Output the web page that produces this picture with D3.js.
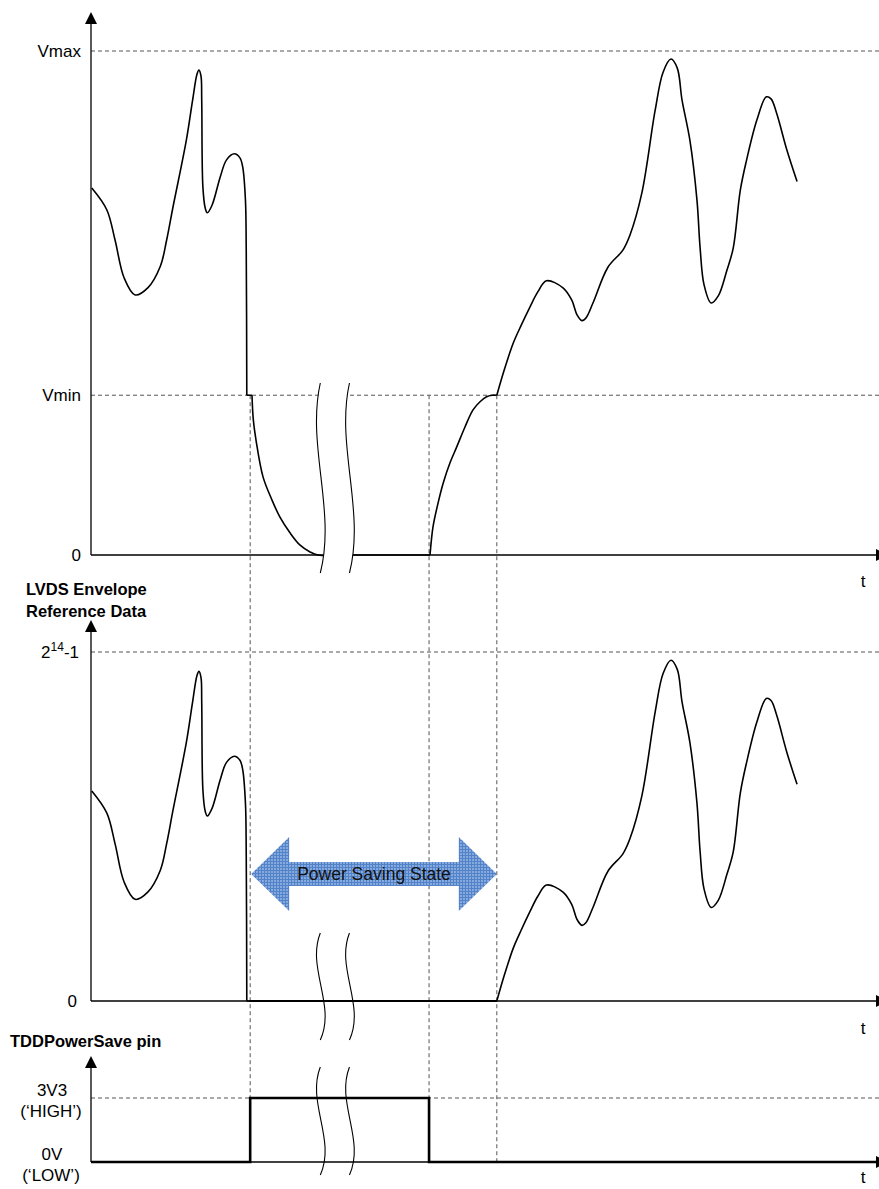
<!DOCTYPE html>
<html><head><meta charset="utf-8">
<script src="https://cdn.jsdelivr.net/npm/d3@7"></script>
<style>
body{margin:0;background:#fff}
svg{display:block}
text{font-family:"Liberation Sans",Arial,Helvetica,sans-serif;fill:#000}
</style>
</head><body>
<svg id="c" width="879" height="1189"></svg>
<script>
// ---------------- data ----------------
// analogue envelope (normalised, Vmax = 1) against time (arbitrary units 0..100)
const envTime = [0.1,2.0,3.05,4.2,5.6,7.2,8.8,9.6,10.4,12.1,12.9,13.45,13.7,13.96,14.05,14.2,14.5,14.76,15.36,16.4,17.2,18.2,18.9,19.25,19.6,19.7,19.77,20.43,20.6,20.94,21.83,22.97,23.98,25.25,26.5,27.8,28.8,33.1,43.02,43.2,43.4,44.04,44.7,45.56,46.4,47.46,48.48,49.37,50.2,50.9,51.5,52.4,53.6,54.6,55.7,56.7,57.8,59.9,61.0,61.7,62.3,62.8,63.7,65.6,67.5,68.4,69.9,71.6,72.6,73.6,74.4,75.0,76.0,76.9,77.3,77.8,78.7,79.6,80.7,81.5,82.4,83.2,84.5,85.7,86.3,87.0,88.3,89.6];
const envLevel = [0.728,0.685,0.625,0.550,0.516,0.530,0.573,0.625,0.690,0.823,0.903,0.954,0.962,0.950,0.903,0.730,0.688,0.679,0.694,0.750,0.784,0.796,0.788,0.770,0.704,0.605,0.317,0.317,0.268,0.228,0.155,0.109,0.075,0.044,0.020,0.006,0,0,0,0.030,0.056,0.103,0.143,0.183,0.214,0.254,0.288,0.304,0.314,0.317,0.317,0.365,0.421,0.456,0.492,0.522,0.544,0.530,0.506,0.476,0.465,0.470,0.500,0.571,0.605,0.635,0.718,0.883,0.958,0.984,0.966,0.903,0.823,0.704,0.609,0.536,0.500,0.514,0.565,0.609,0.724,0.784,0.863,0.909,0.905,0.877,0.804,0.741];
const envCornerTimes = [19.77, 20.43, 43.02, 51.5];   // sharp corners of the envelope
const VMIN = 0.317, VMAX = 1;
const envTickValues = [0, VMIN, VMAX];
const envTickLabels = ["0", "Vmin", "Vmax"];
const CODE_MAX = 16383;                 // 2^14-1
const refTickValues = [0, CODE_MAX];
const pinTime = [0, 20.2, 42.9, 100];
const pinLevel = [0, 3.3, 0, 0];
const pinTickValues = [0, 3.3];
const pinTickLabels = [["0V", "(\u2018LOW\u2019)"], ["3V3", "(\u2018HIGH\u2019)"]];
const markerTimes = [20.2, 42.9, 51.5];
const breakTimes = [29.1, 32.8];
const powerSaveSpan = [20.2, 51.5];
const powerSaveLabel = "Power Saving State";
const refTitle = ["LVDS Envelope", "Reference Data"];
const pinTitle = "TDDPowerSave pin";

// ---------------- layout ----------------
const svg = d3.select("#c");
const X0 = 91, X1 = 879;
const x = d3.scaleLinear().domain([0, 100]).range([X0, X1]);
const y1 = d3.scaleLinear().domain([0, VMAX]).range([555, 51]);
const code = d3.scaleLinear().domain([VMIN, VMAX]).range([0, CODE_MAX]).clamp(true);
const y2 = d3.scaleLinear().domain([0, CODE_MAX]).range([1001, 652]);
const y3 = d3.scaleLinear().domain([0, 3.3]).range([1162, 1098]);
const curve = d3.curveCatmullRom.alpha(0.5);

const defs = svg.append("defs");
const pat = defs.append("pattern").attr("id", "grid").attr("patternUnits", "userSpaceOnUse")
  .attr("width", 3).attr("height", 3);
pat.append("rect").attr("width", 3).attr("height", 3).attr("fill", "#86a9de");
pat.append("rect").attr("width", 3).attr("height", 1).attr("fill", "#5282c8");
pat.append("rect").attr("width", 1).attr("height", 3).attr("fill", "#5282c8");

const dashCol = "#555";
function hDash(y) {
  svg.append("line").attr("x1", X0).attr("x2", X1).attr("y1", y).attr("y2", y)
    .attr("stroke", dashCol).attr("stroke-width", 1).attr("stroke-dasharray", "4,3");
}
function yAxis(yBottom, tipY) {
  svg.append("line").attr("x1", X0).attr("x2", X0).attr("y1", yBottom).attr("y2", tipY + 8)
    .attr("stroke", "#000").attr("stroke-width", 1.3);
  svg.append("path").attr("d", `M${X0},${tipY} L${X0 - 6},${tipY + 12} L${X0 + 6},${tipY + 12} Z`).attr("fill", "#000");
}
function xAxis(y, w) {
  svg.append("line").attr("x1", X0).attr("x2", 878).attr("y1", y).attr("y2", y)
    .attr("stroke", "#000").attr("stroke-width", w);
  svg.append("path").attr("d", `M876,${y - 6} L888,${y} L876,${y + 6} Z`).attr("fill", "#000");
}
function tLabel(y) {
  svg.append("text").attr("x", 863).attr("y", y).attr("text-anchor", "middle")
    .attr("font-size", 17).text("t");
}

// dashed horizontals
hDash(y1(VMAX)); hDash(y1(VMIN)); hDash(y2(CODE_MAX)); hDash(y3(3.3));

// dashed verticals
markerTimes.forEach((t, i) => {
  svg.append("line").attr("x1", x(t)).attr("x2", x(t))
    .attr("y1", y1(VMIN)).attr("y2", i < 2 ? y3(3.3) : y3(0))
    .attr("stroke", dashCol).attr("stroke-width", 1).attr("stroke-dasharray", "4,3");
});

// axes
yAxis(y1(0), 12); xAxis(y1(0), 1.3); tLabel(587);
yAxis(y2(0), 620); xAxis(y2(0), 1.3); tLabel(1034);
yAxis(y3(0), 1056); xAxis(y3(0), 1.3); tLabel(1183);

// envelope split into smooth segments at its corners
const env = envTime.map((t, i) => ({ t, v: envLevel[i] }));
const segments = [[]];
env.forEach(d => {
  segments[segments.length - 1].push(d);
  if (envCornerTimes.includes(d.t)) segments.push([d]);
});

// panel 1 envelope
const line1 = d3.line().x(d => x(d.t)).y(d => y1(d.v)).curve(curve);
svg.append("path").attr("d", segments.map(s => line1(s)).join(""))
  .attr("fill", "none").attr("stroke", "#000").attr("stroke-width", 1.6).attr("stroke-linejoin", "round");

// panel 2 reference data (envelope mapped onto 14-bit code)
const line2 = d3.line().x(d => x(d.t)).y(d => y2(code(d.v))).curve(curve);
svg.append("path").attr("d", segments.map(s => line2(s)).join(""))
  .attr("fill", "none").attr("stroke", "#000").attr("stroke-width", 1.6).attr("stroke-linejoin", "round");
svg.append("line").attr("x1", x(powerSaveSpan[0])).attr("x2", x(powerSaveSpan[1]))
  .attr("y1", y2(0)).attr("y2", y2(0)).attr("stroke", "#000").attr("stroke-width", 2.2);

// panel 3 pin
const pin = pinTime.map((t, i) => ({ t, v: pinLevel[i] }));
svg.append("path").datum(pin)
  .attr("d", d3.line().x(d => x(d.t)).y(d => y3(d.v)).curve(d3.curveStepAfter))
  .attr("fill", "none").attr("stroke", "#000").attr("stroke-width", 2.6);

// break marks
function sCurve(xx, a, b) {
  const h = b - a;
  return `M${xx},${a} C${xx - 14},${a + h * 0.33} ${xx + 16},${a + h * 0.67} ${xx},${b}`;
}
function sCurveRev(xx, a, b) {
  const h = b - a;
  return `L${xx},${b} C${xx + 16},${a + h * 0.67} ${xx - 14},${a + h * 0.33} ${xx},${a} Z`;
}
function breakMark(a, b, fill) {
  const xa = x(breakTimes[0]), xb = x(breakTimes[1]);
  if (fill) svg.append("path").attr("d", sCurve(xa, a, b) + sCurveRev(xb, a, b)).attr("fill", "#fff");
  [xa, xb].forEach(xx => svg.append("path").attr("d", sCurve(xx, a, b))
    .attr("fill", "none").attr("stroke", "#000").attr("stroke-width", 1.1));
}
breakMark(y1(0) - 172, y1(0) + 18, true);
breakMark(y2(0) - 68, y2(0) + 39, false);
breakMark(y3(3.3) - 31, y3(0) + 13, false);

// power saving double arrow
(function () {
  const xa = x(powerSaveSpan[0]) + 1, xb = x(powerSaveSpan[1]);
  const cy = 874, hh = 37, sh = 12, hl = 38;
  const pts = [[xa, cy], [xa + hl, cy - hh], [xa + hl, cy - sh], [xb - hl, cy - sh], [xb - hl, cy - hh], [xb, cy],
    [xb - hl, cy + hh], [xb - hl, cy + sh], [xa + hl, cy + sh], [xa + hl, cy + hh]];
  svg.append("path").attr("d", "M" + pts.map(p => p.join(",")).join("L") + "Z").attr("fill", "url(#grid)");
  svg.append("text").attr("x", (xa + xb) / 2).attr("y", cy).attr("dy", "0.35em")
    .attr("text-anchor", "middle").attr("font-size", 17.5).style("fill", "#111").text(powerSaveLabel);
})();

// tick labels
envTickValues.forEach((v, i) => {
  svg.append("text").attr("x", 81).attr("y", y1(v)).attr("dy", "0.36em")
    .attr("text-anchor", "end").attr("font-size", 17).text(envTickLabels[i]);
});
svg.append("text").attr("x", 77).attr("y", y2(refTickValues[0])).attr("dy", "0.36em")
  .attr("text-anchor", "end").attr("font-size", 17).text("0");
(function () {
  const t = svg.append("text").attr("x", 79).attr("y", y2(refTickValues[1]) + 6)
    .attr("text-anchor", "end").attr("font-size", 17);
  t.append("tspan").text("2");
  t.append("tspan").attr("dy", -7).attr("font-size", 12).text("14");
  t.append("tspan").attr("dy", 7).text("-1");
})();
pinTickValues.forEach((v, i) => {
  const yy = y3(v);
  svg.append("text").attr("x", 52).attr("y", yy - 8).attr("dy", "0.36em")
    .attr("text-anchor", "middle").attr("font-size", 17).text(pinTickLabels[i][0]);
  svg.append("text").attr("x", 51).attr("y", yy + 13).attr("dy", "0.36em")
    .attr("text-anchor", "middle").attr("font-size", 17).text(pinTickLabels[i][1]);
});

// titles
svg.append("text").attr("x", 26).attr("y", 595).attr("font-size", 16.5).attr("font-weight", "bold").text(refTitle[0]);
svg.append("text").attr("x", 26).attr("y", 617).attr("font-size", 16.5).attr("font-weight", "bold").text(refTitle[1]);
svg.append("text").attr("x", 10).attr("y", 1047).attr("font-size", 16.5).attr("font-weight", "bold").text(pinTitle);
</script>
</body></html>
